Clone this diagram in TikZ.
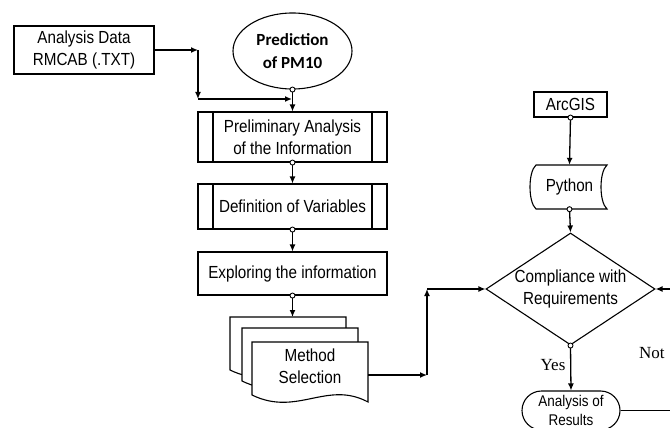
\documentclass[tikz,border=0pt]{standalone}
\usepackage{fontspec}
\setmainfont{Liberation Sans}
\newfontfamily\narrowfont[FakeStretch=0.87]{Liberation Sans}
\newfontfamily\calbfont{Carlito}
\newfontfamily\tmsfont{Liberation Serif}
\usetikzlibrary{arrows.meta,shapes.geometric}
\newcommand\fsmain{\narrowfont\fontsize{17.5}{22}\selectfont}
\newcommand\fssmall{\narrowfont\fontsize{15.5}{19}\selectfont}
\begin{document}
\begin{tikzpicture}[x=1pt,y=-1pt,
  shp/.style={draw, line width=1.1pt, fill=white},
  box/.style={shp, rectangle, align=center, inner sep=0pt, font=\fsmain},
  predef/.style={box, path picture={
      \draw[line width=1.1pt] ([xshift=15pt]path picture bounding box.north west) -- ([xshift=15pt]path picture bounding box.south west);
      \draw[line width=1.1pt] ([xshift=-15pt]path picture bounding box.north east) -- ([xshift=-15pt]path picture bounding box.south east);}},
  arr/.style={line width=1.3pt, -{Latex[length=7pt,width=6pt]}},
  plain/.style={line width=1.3pt},
  dot/.style={circle, draw, fill=white, line width=0.9pt, inner sep=0pt, minimum size=5pt},
  lbl/.style={font=\tmsfont\fontsize{17}{20}\selectfont, inner sep=0pt}
]
\clip (0,0) rectangle (670,428);
\fill[white] (0,0) rectangle (670,428);

% left column
\node[box, minimum width=140pt, minimum height=48pt] (data) at (84,50) {Analysis Data\\RMCAB (.TXT)};
\node[shp, ellipse, minimum width=119pt, minimum height=76pt, inner sep=0pt, align=center,
      font=\calbfont\bfseries\fontsize{17}{23}\selectfont] (pred) at (292.5,51) {Prediction\\of PM10};
\node[predef, minimum width=189pt, minimum height=50pt] (pre) at (292.5,137) {Preliminary Analysis\\of the Information};
\node[predef, minimum width=189pt, minimum height=45pt] (def) at (292.5,206.5) {Definition of Variables};
\node[box, minimum width=189pt, minimum height=43pt] (exp) at (292.5,273.5) {Exploring the information};

% multi-document
\foreach \ox/\oy in {230/317, 242/328, 252/342}{
  \draw[shp] (\ox,\oy) -- (\ox+116,\oy) -- (\ox+116,\oy+60)
    .. controls (\ox+75,\oy+38) and (\ox+45,\oy+75) .. (\ox,\oy+53) -- cycle;
}
\node[align=center, inner sep=0pt, font=\fsmain] (ms) at (310,366.5) {Method\\Selection};
\coordinate (msout) at (368,375);

% right column
\node[box, minimum width=73pt, minimum height=25pt] (arc) at (570.5,104.5) {ArcGIS};
\draw[shp] (536,165) -- (607,165) .. controls (599,172) and (599,202) .. (607,209)
   -- (536,209) .. controls (528,202) and (528,172) .. (536,165) -- cycle;
\node[minimum width=71pt, minimum height=44pt, inner sep=0pt, font=\fsmain] (py) at (569.5,187) {Python};
\node[shp, diamond, minimum width=169pt, minimum height=112pt, inner sep=0pt] (dec) at (570.5,289) {};
\node[align=center, inner sep=0pt, font=\fsmain] (dectext) at (dec.center) {Compliance with\\Requirements};
\node[shp, rectangle, rounded corners=19.5pt, minimum width=98pt, minimum height=39pt, inner sep=0pt,
      align=center, font=\fssmall] (res) at (571,410.5) {Analysis of\\Results};
\node[lbl] (yes) at (553,365) {Yes};
\node[lbl, anchor=west] (not) at (639,353) {Not};

% junction coordinates
\coordinate (j1) at (198,50);
\coordinate (j2) at (198,99);
\coordinate (j3) at (292,99);
\coordinate (j4) at (427,375);
\coordinate (j5) at (427,289);
\coordinate (redge) at (672,289);
\coordinate (redge2) at (672,410.5);

% connectors
\draw[arr] (data.east) -- (j1);
\draw[arr] (j1) -- (j2);
\draw[arr] (j2) -- (j3);
\draw[arr] (pred.south) -- (pre.north);
\draw[arr] (pre.south) -- (def.north);
\draw[arr] (def.south) -- (exp.north);
\draw[arr] (exp.south) -- (292.5,317);
\draw[arr] (msout) -- (j4);
\draw[arr] (j4) -- (j5);
\draw[arr] (j5) -- (dec.west);
\draw[arr] (arc.south) -- (py.north);
\draw[arr] (py.south) -- (dec.north);
\draw[arr] (dec.south) -- (res.north);
\draw[arr] (redge) -- (dec.east);
\draw[plain] (res.east) -- (redge2);

% dots
\node[dot] (d1) at (pred.south) {};
\node[dot] (d2) at (pre.south) {};
\node[dot] (d3) at (def.south) {};
\node[dot] (d4) at (exp.south) {};
\node[dot] (d5) at (arc.south) {};
\node[dot] (d6) at (py.south) {};
\node[dot] (d7) at (dec.south) {};
\end{tikzpicture}
\end{document}
